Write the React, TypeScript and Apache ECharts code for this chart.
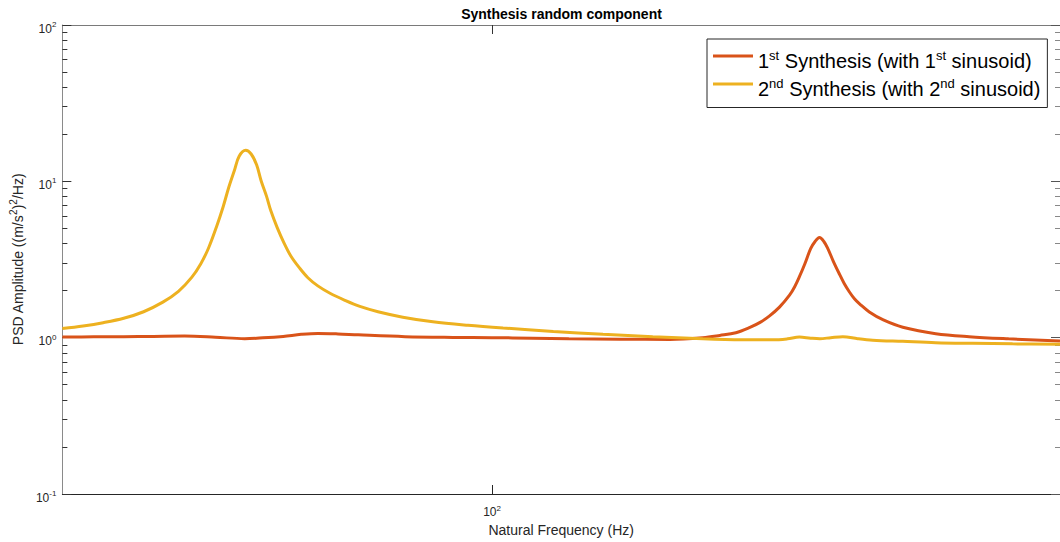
import React, { useEffect, useRef } from "react";
import * as echarts from "echarts";

// ---- data -------------------------------------------------------------
const seriesNames = [
  "1st Synthesis (with 1st sinusoid)",
  "2nd Synthesis (with 2nd sinusoid)",
];

// 1st synthesis: flat near 1 with a resonance near 170 Hz
const freq1 = [
  50, 52.6, 55.2, 57.9, 60.9, 64.0, 67.1, 69.1, 71.4, 73.5, 75.5, 78.0, 80.6,
  86.9, 93.9, 100, 106.8, 113.2, 122.9, 133.2, 140.5, 144.4, 148.2, 151.6,
  154.1, 156.4, 159.0, 161.6, 162.95, 164.2, 165.6, 167.2, 168.4, 169.6, 170.8,
  171.9, 173.4, 175.0, 176.5, 178.0, 179.5, 181.0, 183.8, 188.0, 194.0, 204.6,
  215.9, 230.1, 250,
];
const psd1 = [
  1.009, 1.012, 1.015, 1.019, 1.024, 1.007, 0.985, 0.997, 1.019, 1.05, 1.065,
  1.057, 1.042, 1.015, 1.004, 1.0, 0.993, 0.985, 0.978, 0.975, 1.0, 1.034,
  1.076, 1.163, 1.252, 1.373, 1.568, 1.87, 2.119, 2.455, 2.949, 3.709, 4.123,
  4.366, 4.123, 3.715, 3.091, 2.592, 2.221, 1.96, 1.768, 1.641, 1.461, 1.299,
  1.167, 1.061, 1.015, 0.983, 0.951,
];

// 2nd synthesis: resonance near 67 Hz, flat near 1 above it
const freq2 = [
  50, 51.7, 53.4, 55.2, 57.0, 58.8, 60.3, 61.6, 62.5, 63.3, 64.1, 64.8, 65.4,
  66.0, 66.5, 67.2, 67.8, 68.4, 68.9, 69.5, 70.0, 70.7, 71.5, 72.3, 73.3, 74.3,
  75.5, 77.0, 78.8, 80.8, 83.2, 86.6, 90.9, 96.2, 101.8, 110.4, 119.6, 129.6,
  140.5, 149.8, 157.3, 161.1, 164.2, 167.2, 169.7, 172.7, 176.1, 180.4, 184.8,
  194.0, 204.6, 217.2, 231.6, 250,
];
const psd2 = [
  1.146, 1.189, 1.247, 1.33, 1.465, 1.687, 1.978, 2.429, 2.962, 3.747, 5.087,
  6.855, 9.17, 11.77, 14.46, 15.8, 14.96, 12.76, 10.09, 8.045, 6.45, 5.079,
  4.027, 3.317, 2.793, 2.418, 2.144, 1.923, 1.74, 1.584, 1.465, 1.352, 1.263,
  1.2, 1.153, 1.097, 1.051, 1.015, 0.985, 0.97, 0.968, 0.983, 1.009, 0.993,
  0.985, 1.0, 1.015, 0.985, 0.964, 0.947, 0.929, 0.92, 0.913, 0.906,
];

const xRange = [50, 250];
const yRange = [0.1, 100];
const xMajorTicks = [100];
const yMajorTicks = [0.1, 1, 10, 100];
const yMinorTicks = [
  0.2, 0.3, 0.4, 0.5, 0.6, 0.7, 0.8, 0.9, 2, 3, 4, 5, 6, 7, 8, 9, 20, 30, 40,
  50, 60, 70, 80, 90,
];

const colors = ["#D95319", "#EDB120"];

// ---- styling helpers --------------------------------------------------
const FONT = "'Liberation Sans', Arial, Helvetica, sans-serif";
const TEXT = "#262626";

const tickRich = {
  m: {
    fontFamily: FONT,
    fontSize: 12,
    height: 12,
    padding: [7, 0, 0, 0],
    verticalAlign: "bottom",
    color: TEXT,
  },
  s: {
    fontFamily: FONT,
    fontSize: 8,
    height: 8,
    padding: [5, 0, 0, 0],
    verticalAlign: "top",
    color: TEXT,
  },
};

const powerLabel = (v: number) => `{m|10}{s|${Math.round(Math.log10(v))}}`;

// "1st" -> 1{s|st}
const ordinalRich = (name: string) =>
  name
    .split(/(\d)(st|nd|rd|th)\b/)
    .map((part, i) => {
      if (part === "") return "";
      return i % 3 === 2 ? `{s|${part}}` : `{m|${part}}`;
    })
    .join("");

function buildOption() {
  const series = [
    { x: freq1, y: psd1 },
    { x: freq2, y: psd2 },
  ].map((d, i) => ({
    name: seriesNames[i],
    type: "line",
    xAxisIndex: 0,
    yAxisIndex: 0,
    data: d.x.map((f, k) => [f, d.y[k]]),
    symbol: "none",
    showSymbol: false,
    smooth: 0.35,
    lineStyle: { width: 3, color: colors[i] },
    itemStyle: { color: colors[i] },
    z: 2 + i,
  }));

  const logX = (extra: object) => ({
    type: "log",
    logBase: 10,
    min: xRange[0],
    max: xRange[1],
    gridIndex: 0,
    splitLine: { show: false },
    minorTick: { show: false },
    ...extra,
  });

  const logY = (extra: object) => ({
    type: "log",
    logBase: 10,
    min: yRange[0],
    max: yRange[1],
    gridIndex: 0,
    splitLine: { show: false },
    minorTick: { show: false },
    ...extra,
  });

  return {
    animation: false,
    backgroundColor: "#ffffff",
    title: {
      text: "Synthesis random component",
      left: 561.5,
      top: 7,
      padding: 0,
      textAlign: "center",
      textStyle: {
        fontFamily: FONT,
        fontSize: 14,
        fontWeight: "bold",
        lineHeight: 14,
        color: "#000",
      },
    },
    grid: { left: 59, right: 0, top: 25, bottom: 47, containLabel: false },
    xAxis: [
      logX({
        position: "bottom",
        name: "Natural Frequency (Hz)",
        nameLocation: "middle",
        nameGap: 29,
        nameTextStyle: { fontFamily: FONT, fontSize: 14, lineHeight: 14, color: TEXT },
        axisLine: { show: true, lineStyle: { color: "#262626", width: 1 } },
        axisTick: {
          show: true,
          inside: true,
          length: 9,
          customValues: xMajorTicks,
          lineStyle: { color: "#262626" },
        },
        axisLabel: {
          show: true,
          margin: 5,
          customValues: xMajorTicks,
          formatter: (v: number) => powerLabel(v),
          rich: tickRich,
        },
      }),
      logX({
        position: "top",
        axisLine: { show: true, lineStyle: { color: "#7a7a7a", width: 1 } },
        axisTick: {
          show: true,
          inside: true,
          length: 9,
          customValues: xMajorTicks,
          lineStyle: { color: "#333" },
        },
        axisLabel: { show: false },
      }),
    ],
    yAxis: [
      logY({
        position: "left",
        name: "{n|PSD Amplitude ((m/s}{s|2}{n|)}{s|2}{n|/Hz)}",
        nameLocation: "middle",
        nameGap: 33,
        nameTextStyle: {
          rich: {
            n: {
              fontFamily: FONT,
              fontSize: 14,
              height: 14,
              padding: [5, 0, 0, 0],
              verticalAlign: "bottom",
              color: TEXT,
            },
            s: {
              fontFamily: FONT,
              fontSize: 10,
              height: 10,
              padding: [2, 0, 0, 0],
              verticalAlign: "top",
              color: TEXT,
            },
          },
        },
        axisLine: { show: true, lineStyle: { color: "#8a8a8a", width: 1 } },
        axisTick: {
          show: true,
          inside: true,
          length: 9,
          customValues: yMajorTicks,
          lineStyle: { color: "#333" },
        },
        axisLabel: {
          show: true,
          margin: 6,
          customValues: yMajorTicks,
          formatter: (v: number) => powerLabel(v),
          rich: tickRich,
        },
      }),
      logY({
        position: "left",
        axisLine: { show: false },
        axisTick: {
          show: true,
          inside: true,
          length: 5,
          customValues: yMinorTicks,
          lineStyle: { color: "#333" },
        },
        axisLabel: { show: false },
      }),
      logY({
        position: "right",
        axisLine: { show: false },
        axisTick: {
          show: true,
          inside: true,
          length: 9,
          customValues: yMajorTicks,
          lineStyle: { color: "#555" },
        },
        axisLabel: { show: false },
      }),
      logY({
        position: "right",
        axisLine: { show: false },
        axisTick: {
          show: true,
          inside: true,
          length: 5,
          customValues: yMinorTicks,
          lineStyle: { color: "#888" },
        },
        axisLabel: { show: false },
      }),
    ],
    legend: {
      show: true,
      orient: "vertical",
      left: 707,
      top: 39,
      padding: [9.5, 7, 9, 6],
      itemGap: 6,
      itemWidth: 40,
      itemHeight: 3,
      icon: "rect",
      borderColor: "#262626",
      borderWidth: 1,
      backgroundColor: "#ffffff",
      data: seriesNames,
      formatter: (name: string) => ordinalRich(name),
      textStyle: {
        color: "#000",
        rich: {
          m: {
            fontFamily: FONT,
            fontSize: 20,
            height: 20,
            padding: [9, 0, 0, 0],
            verticalAlign: "bottom",
            color: "#000",
          },
          s: {
            fontFamily: FONT,
            fontSize: 13,
            height: 13,
            padding: [7, 0, 0, 0],
            verticalAlign: "top",
            color: "#000",
          },
        },
      },
    },
    series,
  };
}

export default function App() {
  const ref = useRef<HTMLDivElement>(null);

  useEffect(() => {
    if (!ref.current) return;
    const chart = echarts.init(ref.current, null, { renderer: "svg" });
    chart.setOption(buildOption() as any);
    return () => chart.dispose();
  }, []);

  return (
    <div
      ref={ref}
      style={{
        position: "absolute",
        left: 0,
        top: 0,
        width: 1060,
        height: 542,
        background: "#ffffff",
      }}
    />
  );
}
